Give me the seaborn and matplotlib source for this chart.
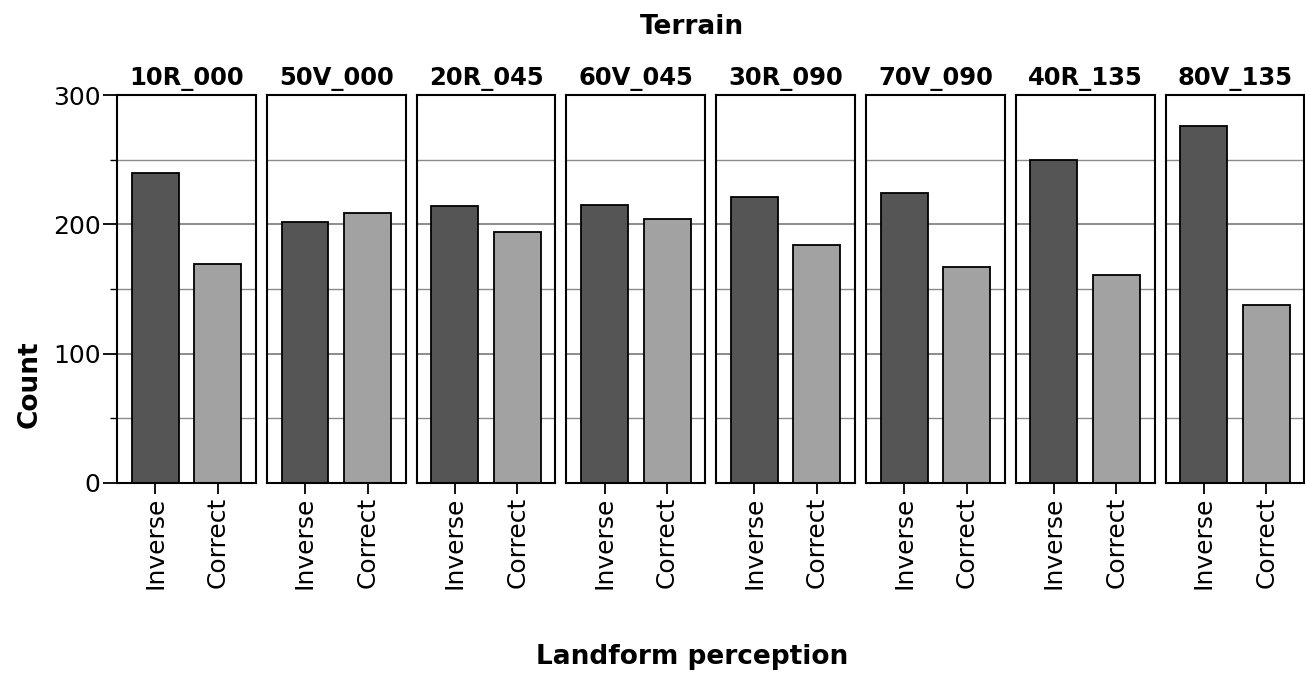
import pandas as pd
import matplotlib.pyplot as plt
import seaborn as sns
from matplotlib.ticker import MultipleLocator

terrains = ["10R_000", "50V_000", "20R_045", "60V_045",
            "30R_090", "70V_090", "40R_135", "80V_135"]
perception = ["Inverse", "Correct"]
inverse_counts = [240, 202, 214, 215, 221, 224, 250, 276]
correct_counts = [169, 209, 194, 204, 184, 167, 161, 138]

df = pd.DataFrame({
    "Terrain": terrains * 2,
    "Landform perception": ["Inverse"] * len(terrains) + ["Correct"] * len(terrains),
    "Count": inverse_counts + correct_counts,
})

sns.set_style("white")
plt.rcParams["font.family"] = ["DejaVu Sans"]
plt.rcParams["text.color"] = "black"
plt.rcParams["xtick.color"] = "black"
plt.rcParams["ytick.color"] = "black"
plt.rcParams["axes.labelcolor"] = "black"

g = sns.catplot(
    data=df, kind="bar", x="Landform perception", y="Count",
    col="Terrain", col_order=terrains, order=perception,
    hue="Landform perception", hue_order=perception,
    palette={"Inverse": "#555555", "Correct": "#a2a2a2"},
    edgecolor="black", linewidth=1.3, width=0.75,
    legend=False, sharey=True, height=4, aspect=0.4,
)
fig = g.figure
fig.set_size_inches(13.05, 6.74)
fig.subplots_adjust(left=0.0897, right=0.9995, top=0.859, bottom=0.2834, wspace=0.079)

for i, (ax, name) in enumerate(zip(g.axes.flat, terrains)):
    ax.set_xlim(-0.61, 1.61)
    ax.set_ylim(0, 300)
    ax.yaxis.set_major_locator(MultipleLocator(100))
    ax.yaxis.set_minor_locator(MultipleLocator(50))
    ax.grid(True, axis="y", which="major", color="#6e6e6e", lw=1.1)
    ax.grid(True, axis="y", which="minor", color="#8a8a8a", lw=1.0)
    ax.set_axisbelow(True)
    for s in ax.spines.values():
        s.set_visible(True)
        s.set_color("black")
        s.set_linewidth(1.5)
    ax.set_title(name, fontsize=17.5, fontweight="bold", pad=7, color="black")
    ax.set_xlabel("")
    ax.set_ylabel("")
    ax.tick_params(axis="x", bottom=True, length=8, width=1.3, color="black",
                   labelcolor="black", labelsize=18, labelrotation=90, pad=2)
    if i == 0:
        ax.tick_params(axis="y", which="major", left=True, length=10, width=1.3,
                       labelcolor="black", labelsize=18, pad=2)
        ax.tick_params(axis="y", which="minor", left=True, length=5, width=1.0)
    else:
        ax.tick_params(axis="y", which="both", left=False, labelleft=False)

fig.text(0.53, 0.96, "Terrain", ha="center", va="center",
         fontsize=19, fontweight="bold", color="black")
fig.text(0.023, 0.43, "Count", ha="center", va="center", rotation=90,
         fontsize=19, fontweight="bold", color="black")
fig.text(0.53, 0.025, "Landform perception", ha="center", va="center",
         fontsize=19, fontweight="bold", color="black")

fig.savefig("out.png", dpi=100)
